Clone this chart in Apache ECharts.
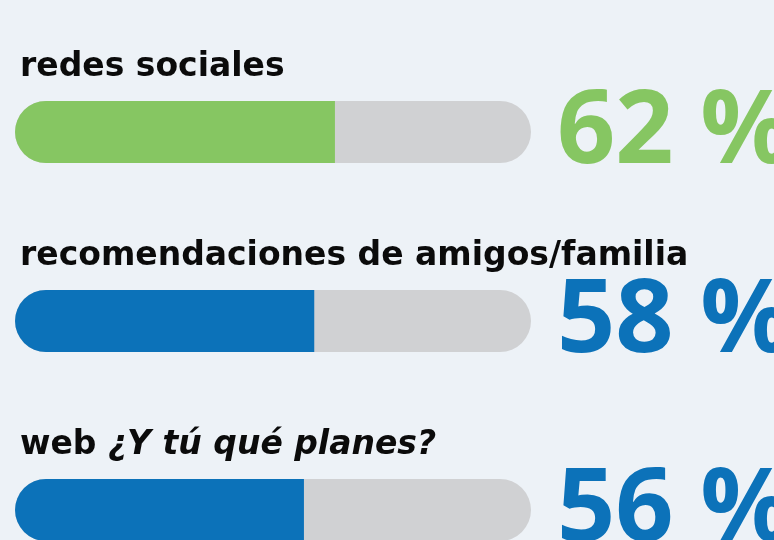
<!DOCTYPE html>
<html>
<head>
<meta charset="utf-8">
<style>
html, body { margin: 0; padding: 0; background: #edf2f7; }
#main { width: 774px; height: 540px; }
</style>
<script src="https://cdn.jsdelivr.net/npm/echarts@6/dist/echarts.min.js"></script>
</head>
<body>
<div id="main"></div>
<script>
// datos
var categorias = ['redes sociales', 'recomendaciones de amigos/familia', 'web ¿Y tú qué planes?'];
var porcentajes = [62, 58, 56];
var colores = ['#86c662', '#0c72b9', '#0c72b9'];
var maximo = 100;

var myChart = echarts.init(document.getElementById('main'));

var fondo = porcentajes.map(function (v, i) {
    return {
        value: maximo,
        label: {
            formatter: v + ' %',
            color: colores[i]
        }
    };
});

var relleno = porcentajes.map(function (v, i) {
    return {
        value: v,
        itemStyle: { color: colores[i] }
    };
});

option = {
    backgroundColor: '#edf2f7',
    animation: false,
    grid: {
        left: 15,
        right: 243,
        top: 132,
        bottom: 30
    },
    xAxis: {
        type: 'value',
        min: 0,
        max: maximo,
        show: false
    },
    yAxis: {
        type: 'category',
        inverse: true,
        boundaryGap: false,   // centros de barra en 132 / 321 / 510
        data: categorias,
        show: false
    },
    series: [
        {
            name: 'total',
            type: 'bar',
            barWidth: 62,
            barGap: '-100%',
            clip: false,
            silent: true,
            itemStyle: { color: '#d0d1d3', borderRadius: 31 },
            label: {
                show: true,
                position: 'right',
                distance: 26,
                offset: [0, 2],
                fontFamily: 'Open Sans',
                fontWeight: 'bold',
                fontSize: 102
            },
            data: fondo
        },
        {
            name: 'porcentaje',
            type: 'bar',
            barWidth: 62,
            barGap: '-100%',
            clip: false,
            itemStyle: { borderRadius: [31, 0, 0, 31] },
            label: {
                show: true,
                position: [5, -17],
                align: 'left',
                verticalAlign: 'bottom',
                fontFamily: 'DejaVu Sans',
                fontWeight: 'bold',
                fontSize: 33,
                color: '#0b0b0b',
                formatter: function (p) {
                    var t = categorias[p.dataIndex];
                    var k = t.indexOf('¿');
                    if (k < 0) return t;
                    return t.slice(0, k) + '{i|' + t.slice(k) + '}';
                },
                rich: {
                    i: {
                        fontFamily: 'DejaVu Sans',
                        fontWeight: 'bold',
                        fontStyle: 'italic',
                        fontSize: 33,
                        color: '#0b0b0b'
                    }
                }
            },
            data: relleno
        }
    ]
};

myChart.setOption(option);
</script>
</body>
</html>
